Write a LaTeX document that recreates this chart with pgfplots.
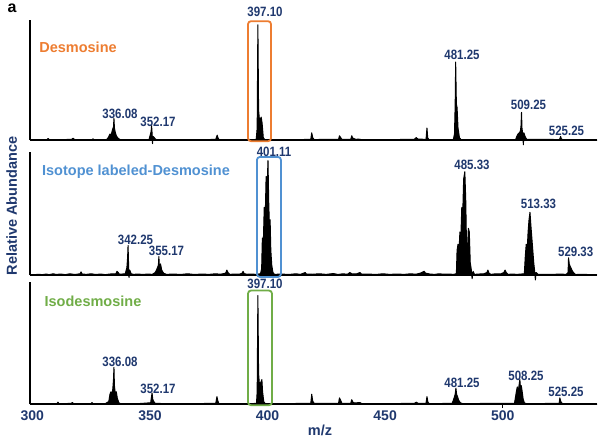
\documentclass[border=0pt]{standalone}
\usepackage{pgfplots}
\pgfplotsset{compat=1.18}
\usepackage{fontspec}
\setmainfont{Liberation Sans}
\definecolor{navy}{RGB}{31,56,110}
\definecolor{dorange}{RGB}{237,125,49}
\definecolor{dblue}{RGB}{80,145,210}
\definecolor{dgreen}{RGB}{112,173,71}
\newcommand\pk[1]{\scalebox{0.85}[1]{\fontsize{13.5bp}{15bp}\selectfont\bfseries #1}}
\newcommand\pl{\fontsize{14.5bp}{17bp}\selectfont\bfseries}
\pgfplotsset{spec/.style={scale only axis, width=567bp, xmin=299, xmax=540.1, ymin=0, ymax=1,
  axis lines*=left, axis line style={line width=1.4bp,-}, xtick=\empty, ytick=\empty,
  clip=false, anchor=south west},
  specline/.style={draw=black, fill=black, line width=1bp, line join=round}}
\begin{document}
\begin{tikzpicture}
\path[use as bounding box] (0,0) rectangle (600bp,-437bp);
% Panel 1: Desmosine
\begin{axis}[spec, at={(30bp,-140bp)}, height=120bp]
\addplot[specline] coordinates {(299,0) (305,0) (306.2,0.004)(306.7,0.012)(307.2,0.003)(312,0.002)(316.8,0.006)(317.3,0.015)(317.8,0.005)(318.5,0.003)(325.4,0.002)(325.8,0.01)(326.2,0.001)(331.5,0.003)(332.3,0.02)(333,0.05)(333.5,0.04)(334,0.08)(334.5,0.11)(334.7,0.18)(334.9,0.1)(335.3,0.06)(335.8,0.03)(336.5,0.015)(337.3,0.003)(345,0.002)(349.6,0.004)(350.1,0.04)(350.5,0.07)(350.7,0.12)(350.9,0.06)(351.1,-0.03)(351.3,0.03)(351.8,0.02)(352.5,0.005)(353.5,0)(370,0.002)(378,0.005)(378.4,0.03)(378.6,0.04)(378.9,0.02)(379.4,0.003)(393,0.002)(395.2,0.005)(395.6,0.1)(395.9,0.96)(396.2,0.25)(396.6,0.16)(397.3,0.19)(397.7,0.14)(398.2,0.02)(398.8,0.003)(408,0.002)(418.4,0.005)(418.8,0.06)(419.2,0.02)(419.8,0.004)(430.2,0.005)(430.6,0.035)(431.1,0.02)(431.6,0.005)(435.4,0.005)(435.8,0.035)(436.3,0.015)(437,0.01)(437.6,0.005)(438.5,0.008)(439.5,0.005)(440.2,0.002)(462.4,0.005)(463.2,0.02)(464,0.008)(467.4,0.005)(467.8,0.1)(468.1,0.02)(468.6,0.003)(479,0.003)(479.5,0.05)(479.8,0.3)(480,0.65)(480.3,0.3)(480.6,0.27)(481,0.1)(481.6,0.02)(482.3,0.003)(505.5,0.004)(506,0.03)(506.5,0.05)(507,0.06)(507.5,0.07)(507.8,0.12)(508,0.23)(508.2,0.1)(508.5,0.05)(508.8,-0.04)(509,0.06)(509.5,0.03)(510.2,0.005)(524.2,0.004)(524.6,0.03)(525,0.008)(525.6,0.002)(540.1,0)};
\draw[dorange, line width=1.8bp, rounded corners=3bp] (axis cs:391.7,-0.01) rectangle (axis cs:401.5,0.99);
\end{axis}
% Panel 2: Isotope labeled
\begin{axis}[spec, at={(30bp,-275bp)}, height=123bp,
  ylabel={\pl Relative Abundance}, ylabel style={at={(axis description cs:-0.023,0.561)}, anchor=base, text=navy}]
\addplot[specline] coordinates {(299,0)(303,0.006)(304,0.002)(306,0.008)(307,0.003)(309,0.01)(310,0.004)(312,0.008)(314,0.003)(316,0.01)(318,0.004)(320.3,0.01)(320.7,0.025)(321.2,0.008)(323,0.005)(325,0.01)(327,0.004)(329,0.008)(331,0.003)(333,0.008)(335.5,0.01)(336,0.03)(336.5,0.02)(337,0.006)(339.5,0.01)(340.2,0.06)(340.5,0.14)(340.7,0.24)(340.9,0.1)(341.1,-0.02)(341.4,0.04)(342,0.01)(343,0.005)(345,0.008)(347,0.004)(349,0.008)(351,0.005)(352.2,0.02)(352.8,0.04)(353.2,0.06)(353.6,0.08)(353.8,0.15)(354,0.07)(354.5,0.09)(355,0.04)(355.8,0.015)(357,0.005)(360,0.008)(363,0.004)(366,0.01)(369,0.004)(372,0.008)(375,0.005)(378,0.01)(380,0.006)(382.2,0.015)(382.7,0.04)(383.2,0.02)(384,0.005)(386,0.008)(388,0.006)(389.2,0.015)(389.6,0.03)(390.1,0.01)(391.5,0.006)(393.5,0.008)(395,0.005)(397,0.01)(397.5,0.05)(397.8,0.3)(398.2,0.25)(398.6,0.55)(399,0.45)(399.4,0.8)(399.8,0.7)(400.2,0.93)(400.5,0.6)(400.8,0.4)(401.1,0.45)(401.4,0.2)(401.8,0.08)(402.3,0.02)(403,0.005)(406,0.008)(409,0.004)(412,0.01)(414,0.005)(416,0.02)(416.5,0.008)(419,0.006)(422,0.01)(425,0.005)(428,0.012)(430,0.004)(432,0.01)(434,0.006)(435,0.02)(436,0.008)(438,0.01)(439.3,0.02)(440,0.006)(443,0.008)(446,0.004)(449,0.01)(452,0.005)(455,0.008)(458,0.005)(461,0.01)(463,0.006)(465,0.015)(466.6,0.03)(467.2,0.015)(469,0.008)(471,0.005)(473,0.01)(475,0.006)(477,0.008)(479,0.005)(480.3,0.01)(480.6,0.2)(481,0.25)(481.4,0.18)(481.8,0.35)(482.2,0.3)(482.6,0.55)(483,0.5)(483.4,0.78)(483.9,0.84)(484.3,0.6)(484.6,0.25)(485,0.2)(485.4,0.38)(485.8,0.35)(486.2,0.1)(486.6,0.05)(487,-0.03)(487.4,0.03)(488,0.005)(490,0.008)(492,0.01)(493.3,0.02)(493.7,0.04)(494.2,0.015)(495,0.005)(497,0.01)(499,0.008)(500.5,0.02)(501,0.04)(501.5,0.02)(502.3,0.005)(504,0.008)(506,0.005)(508,0.008)(509.2,0.01)(509.6,0.15)(510,0.25)(510.4,0.2)(510.8,0.35)(511.2,0.45)(511.6,0.51)(512,0.4)(512.4,0.3)(512.8,0.2)(513.2,0.1)(513.6,0.03)(513.9,-0.04)(514.2,0.02)(515,0.005)(518,0.006)(521,0.004)(524,0.008)(527,0.005)(527.8,0.02)(528,0.14)(528.3,0.09)(528.7,0.07)(529.2,0.05)(529.7,0.03)(530.3,0.015)(531,0.004)(535,0.005)(540.1,0)};
\draw[dblue, line width=1.8bp, rounded corners=3bp] (axis cs:395.5,-0.016) rectangle (axis cs:405.7,0.96);
\end{axis}
% Panel 3: Isodesmosine
\begin{axis}[spec, at={(30bp,-404bp)}, height=122bp,
  xtick={300,350,400,450,500}, xticklabels={300,350,400,450,500}, major tick length=0pt,
  xticklabel style={font=\fontsize{14bp}{16bp}\selectfont\bfseries, text=navy, yshift=-3bp},
  extra x ticks={500}, extra x tick labels={}, extra x tick style={major tick length=4bp, tick align=outside, tick style={line width=0.8bp, black}},
  xlabel={\pl m/z}, xlabel style={at={(axis description cs:0.5115,0)}, anchor=base, yshift=-31.5bp, text=navy}]
\addplot[specline] coordinates {(299,0)(305,0.003)(310.5,0.004)(310.9,0.015)(311.3,0.004)(314,0.003)(316.6,0.006)(317,0.012)(317.5,0.004)(321,0.002)(325,0.004)(325.4,0.012)(325.8,0.002)(331,0.003)(332.5,0.02)(333,0.08)(333.4,0.1)(333.8,0.08)(334.2,0.12)(334.5,0.2)(334.7,0.3)(334.9,0.15)(335.3,0.08)(335.7,0.1)(336.1,0.05)(336.8,0.01)(337.5,0.003)(345,0.003)(350.3,0.01)(350.6,0.05)(350.9,0.09)(351.2,0.04)(351.6,0.02)(352.3,0.005)(360,0.002)(370,0.003)(378,0.006)(378.3,0.04)(378.5,0.06)(378.8,0.03)(379.3,0.004)(393,0.002)(395.3,0.006)(395.6,0.1)(395.9,0.89)(396.2,0.25)(396.6,0.15)(397.2,0.18)(397.6,0.2)(397.9,0.1)(398.4,0.02)(399,0.003)(408,0.003)(418.4,0.006)(418.8,0.08)(419.2,0.025)(419.8,0.005)(430.2,0.006)(430.6,0.05)(431.1,0.03)(431.6,0.006)(435.4,0.006)(435.8,0.035)(436.3,0.015)(437,0.008)(438,0.01)(439.3,0.012)(440.2,0.002)(450,0.002)(462.5,0.006)(463.2,0.015)(464,0.006)(467.4,0.006)(467.8,0.06)(468.2,0.015)(468.8,0.003)(478.5,0.005)(479,0.03)(479.5,0.06)(479.8,0.08)(480.1,0.13)(480.4,0.08)(480.8,0.06)(481.3,0.03)(482,0.01)(483,0.003)(485,0.004)(488,0.003)(492,0.005)(505,0.005)(505.4,0.05)(505.8,0.1)(506.2,0.14)(506.6,0.1)(507,0.16)(507.3,0.2)(507.6,0.12)(507.9,0.15)(508.3,0.1)(508.7,0.04)(509.2,0.01)(510,0.003)(524,0.005)(524.3,0.05)(524.7,0.02)(525.3,0.005)(526,0.002)(540.1,0)};
\draw[dgreen, line width=1.8bp, rounded corners=3bp] (axis cs:391.7,-0.01) rectangle (axis cs:401.9,0.93);
\end{axis}
% texts
\node[anchor=base, inner sep=0pt] at (12bp,-12.5bp) {\fontsize{16bp}{18bp}\selectfont\bfseries a};
\node[anchor=base, inner sep=0pt, text=dorange] at (78bp,-52bp) {\pl Desmosine};
\node[anchor=base, inner sep=0pt, text=dblue] at (136bp,-175bp) {\pl Isotope labeled-Desmosine};
\node[anchor=base, inner sep=0pt, text=dgreen] at (93bp,-306bp) {\pl Isodesmosine};
\begin{scope}[every node/.style={anchor=base, inner sep=0pt, text=navy}]
\node at (265bp,-16.5bp) {\pk{397.10}};
\node at (120bp,-118bp) {\pk{336.08}};
\node at (158bp,-126bp) {\pk{352.17}};
\node at (462bp,-59.5bp) {\pk{481.25}};
\node at (528.5bp,-109bp) {\pk{509.25}};
\node at (566.5bp,-135bp) {\pk{525.25}};
\node at (274bp,-156bp) {\pk{401.11}};
\node at (135.5bp,-244bp) {\pk{342.25}};
\node at (166.5bp,-255bp) {\pk{355.17}};
\node at (472bp,-169.5bp) {\pk{485.33}};
\node at (538.5bp,-208bp) {\pk{513.33}};
\node at (575.7bp,-256bp) {\pk{529.33}};
\node at (265bp,-288bp) {\pk{397.10}};
\node at (120bp,-366bp) {\pk{336.08}};
\node at (158bp,-393bp) {\pk{352.17}};
\node at (462bp,-387bp) {\pk{481.25}};
\node at (526bp,-380bp) {\pk{508.25}};
\node at (566bp,-396bp) {\pk{525.25}};
\end{scope}
\end{tikzpicture}
\end{document}
